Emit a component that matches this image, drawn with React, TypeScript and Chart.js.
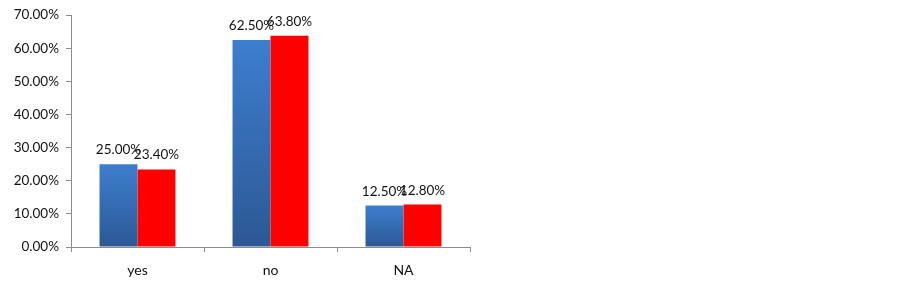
import React, { useEffect, useRef } from "react";
import { Chart, registerables } from "chart.js";

Chart.register(...registerables);

const categories = ["yes", "no", "NA"];
const seriesA = [25.0, 62.5, 12.5];
const seriesB = [23.4, 63.8, 12.8];
const yTicksMax = 70;

const FONT = "Lato, 'Liberation Sans', Arial, sans-serif";

export default function App() {
  const ref = useRef<HTMLCanvasElement | null>(null);

  useEffect(() => {
    if (!ref.current) return;

    const labelPlugin = {
      id: "barLabels",
      afterDatasetsDraw(chart: any) {
        const ctx = chart.ctx;
        ctx.save();
        ctx.font = `13.5px ${FONT}`;
        ctx.fillStyle = "#111";
        ctx.textAlign = "center";
        ctx.textBaseline = "alphabetic";
        chart.data.datasets.forEach((ds: any, di: number) => {
          const meta = chart.getDatasetMeta(di);
          meta.data.forEach((bar: any, i: number) => {
            const v = ds.data[i] as number;
            ctx.fillText(v.toFixed(2) + "%", bar.x, bar.y - 10);
          });
        });
        ctx.restore();
      },
    };

    const blueGradient = (c: any) => {
      const chart = c.chart;
      const ys = chart.scales?.y;
      if (!ys || c.parsed == null) return "#3a74c0";
      const top = ys.getPixelForValue(c.parsed.y);
      const bottom = ys.getPixelForValue(0);
      if (!isFinite(top) || !isFinite(bottom) || top === bottom) return "#3a74c0";
      const g = chart.ctx.createLinearGradient(0, top, 0, bottom);
      g.addColorStop(0, "#3d7ecf");
      g.addColorStop(1, "#2c5894");
      return g;
    };

    const chart = new Chart(ref.current, {
      type: "bar",
      data: {
        labels: categories,
        datasets: [
          { data: seriesA, backgroundColor: blueGradient as any, borderWidth: 0 },
          { data: seriesB, backgroundColor: "#ff0000", borderWidth: 0 },
        ],
      },
      options: {
        animation: false,
        responsive: false,
        maintainAspectRatio: false,
        layout: { padding: { left: 0, top: 15, right: 432, bottom: 0 } },
        plugins: { legend: { display: false }, tooltip: { enabled: false } },
        datasets: { bar: { categoryPercentage: 0.571, barPercentage: 1 } },
        scales: {
          x: {
            afterFit: (s: any) => {
              s.height = 283 - 247;
            },
            grid: {
              display: true,
              drawOnChartArea: false,
              offset: true,
              tickLength: 5,
              color: "#8c8c8c",
            },
            border: { display: true, color: "#8c8c8c", width: 1 },
            ticks: {
              color: "#111",
              font: { family: FONT, size: 14 },
              padding: 10,
            },
          },
          y: {
            min: 0,
            max: yTicksMax,
            afterFit: (s: any) => {
              s.width = 71;
            },
            grid: {
              display: true,
              drawOnChartArea: false,
              tickLength: 5,
              color: "#8c8c8c",
            },
            border: { display: true, color: "#8c8c8c", width: 1 },
            ticks: {
              stepSize: 10,
              color: "#111",
              font: { family: FONT, size: 13.5 },
              padding: 7,
              callback: (v: any) => Number(v).toFixed(2) + "%",
            },
          },
        },
      },
      plugins: [labelPlugin],
    });

    return () => chart.destroy();
  }, []);

  return (
    <div style={{ position: "fixed", left: 0, top: 0, width: 902, height: 283, background: "#fff" }}>
      <canvas ref={ref} width={902} height={283} style={{ display: "block", width: 902, height: 283 }} />
    </div>
  );
}
